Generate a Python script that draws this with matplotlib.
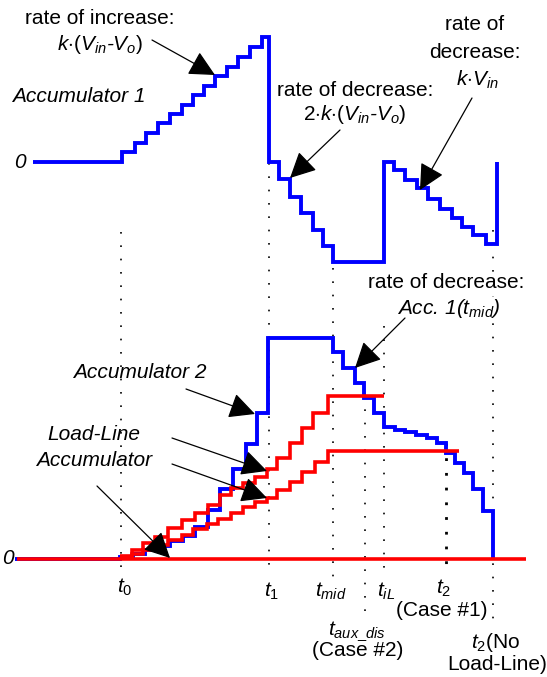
import numpy as np
import matplotlib.pyplot as plt

plt.rcParams['font.family'] = ['Liberation Sans', 'DejaVu Sans']
plt.rcParams['mathtext.fontset'] = 'custom'
plt.rcParams['mathtext.it'] = 'Liberation Sans:italic'
plt.rcParams['mathtext.rm'] = 'Liberation Sans'

# ---- data (time axis in drawing units, levels above each zero line) ----
# Accumulator 1 (top trace)
acc1_t = [33, 122, 135, 146, 158, 170, 182, 193, 204, 215, 227, 238, 250, 262, 269,
          279, 290, 301, 313, 323, 333, 384, 394, 405, 417, 428, 440, 452, 462, 473, 486, 497]
acc1_v = [0, 10, 19, 29, 39, 48, 57, 67, 76, 86, 95, 105, 115, 125, 0,
          -17, -35, -51, -68, -84, -100, 0, -8, -18, -26, -37, -47, -56, -65, -73, -82, 0]

# Accumulator 2 (bottom, blue)
acc2_t = [15, 120, 133, 145, 158, 170, 183, 195, 208, 220, 233, 246, 257, 268, 333, 343,
          355, 364, 374, 384, 395, 405, 416, 427, 437, 446, 455, 464, 473, 483, 493]
acc2_v = [0, 2, 5, 9, 13, 18, 23, 32, 49, 70, 90, 115, 146, 221, 207, 191,
          176, 161, 146, 132, 129, 127, 124, 121, 116, 106, 96, 86, 70, 48, 0]

# Load-line accumulators (bottom, red)
ll_hi_t = [120, 132, 143, 155, 168, 182, 195, 208, 220, 231, 243, 255, 267, 277, 290, 302, 313, 328, 384]
ll_hi_v = [3, 9, 16, 22, 31, 39, 46, 54, 64, 71, 76, 82, 90, 101, 116, 131, 146, 163, 163]
ll_lo_t = [120, 132, 143, 155, 168, 182, 193, 207, 218, 231, 243, 255, 267, 277, 290, 302, 315, 328, 459]
ll_lo_v = [2, 5, 9, 14, 19, 24, 30, 35, 40, 46, 52, 57, 61, 69, 77, 87, 97, 108, 108]
ll_zero_t = [17, 526]

# time markers: x, top, bottom
markers = {
    't0': (121, 232, 574),
    't1': (269, 163, 576),
    'tmid': (333, 268, 580),
    'taux': (365, 396, 614),
    'tiL': (384, 326, 576),
    't2': (446, 443, 572),
    't2nl': (493, 230, 622),
}

ZERO1 = 162
ZERO2 = 559
BLUE = '#0000ff'
RED = '#ff0000'

fig = plt.figure(figsize=(5.47, 6.77), dpi=100)
ax = fig.add_axes([0, 0, 1, 1])
ax.set_xlim(0, 547)
ax.set_ylim(677, 0)
ax.axis('off')

# dotted time markers
for k, (x, y0, y1) in markers.items():
    if k == 't2':
        ax.plot([x, x], [y0, y1], color='black', lw=2, ls=(0, (1, 4.3)), zorder=1)
    else:
        ax.plot([x, x], [y0, y1], color='black', lw=1.2, ls=(0, (1, 7)), zorder=1)

line_kw = dict(drawstyle='steps-post', solid_joinstyle='miter', solid_capstyle='butt')
ax.plot(acc1_t, ZERO1 - np.array(acc1_v), color=BLUE, lw=2.8, zorder=3, **line_kw)
ax.plot(acc2_t, ZERO2 - np.array(acc2_v), color=BLUE, lw=2.8, zorder=3, **line_kw)
ax.plot(ll_hi_t, ZERO2 - np.array(ll_hi_v), color=RED, lw=2.6, zorder=4, **line_kw)
ax.plot(ll_lo_t, ZERO2 - np.array(ll_lo_v), color=RED, lw=2.6, zorder=4, **line_kw)
ax.plot(ll_zero_t, [ZERO2, ZERO2], color=RED, lw=2.6, zorder=4, solid_capstyle='butt')

fs = 15
it = dict(fontsize=fs, style='italic', ha='center', va='center')
nm = dict(fontsize=fs, ha='center', va='center')

ax.text(100, 18, 'rate of increase:', **nm)
ax.text(100, 45, r'$k{\cdot}(V_{in}$-$V_o)$', **it)
ax.text(12, 97, 'Accumulator 1', fontsize=fs, style='italic', ha='left', va='center')
ax.text(20, 162, '0', **it)

ax.text(475, 25, 'rate of', **nm)
ax.text(475, 52, 'decrease:', **nm)
ax.text(477, 80, r'$k{\cdot}V_{in}$', **it)

ax.text(355, 90, 'rate of decrease:', **nm)
ax.text(355, 115, r'$2{\cdot}k{\cdot}(V_{in}$-$V_o)$', **it)

ax.text(446, 283, 'rate of decrease:', zorder=5,
        bbox=dict(fc='white', ec='none', pad=0), **nm)
ax.text(449, 308, r'Acc. 1($t_{mid}$)', zorder=5,
        bbox=dict(fc='white', ec='none', pad=0), **it)

ax.text(73, 372, 'Accumulator 2', fontsize=fs, style='italic', ha='left', va='center')
ax.text(94, 435, 'Load-Line', **it)
ax.text(94, 460, 'Accumulator', **it)
ax.text(8, 559, '0', **it)

# time labels
ax.text(125, 587, r'$t_0$', **it)
ax.text(272, 591, r'$t_1$', **it)
ax.text(331, 591, r'$t_{mid}$', **it)
ax.text(386, 591, r'$t_{iL}$', **it)
ax.text(444, 588, r'$t_2$', **it)
ax.text(442, 610, '(Case #1)', **nm)
ax.text(357, 631, r'$t_{aux\_dis}$', **it)
ax.text(358, 651, '(Case #2)', **nm)
ax.text(496, 642, r'$t_2$(No', **nm)
ax.text(497, 665, 'Load-Line)', **nm)

# arrows
arrows = [((152, 40), (215, 75)), ((340, 130), (290, 178)), ((472, 98), (420, 190)),
          ((405, 318), (355, 368)), ((186, 389), (255, 414)), ((172, 438), (267, 471)),
          ((172, 464), (267, 498)), ((97, 486), (170, 558))]
for start, tip in arrows:
    ax.annotate('', xy=tip, xytext=start, zorder=6,
                arrowprops=dict(arrowstyle='-|>,head_length=0.8,head_width=0.4',
                                mutation_scale=20, color='black', lw=0.9,
                                shrinkA=0, shrinkB=0))

fig.savefig('out.png', dpi=100)
